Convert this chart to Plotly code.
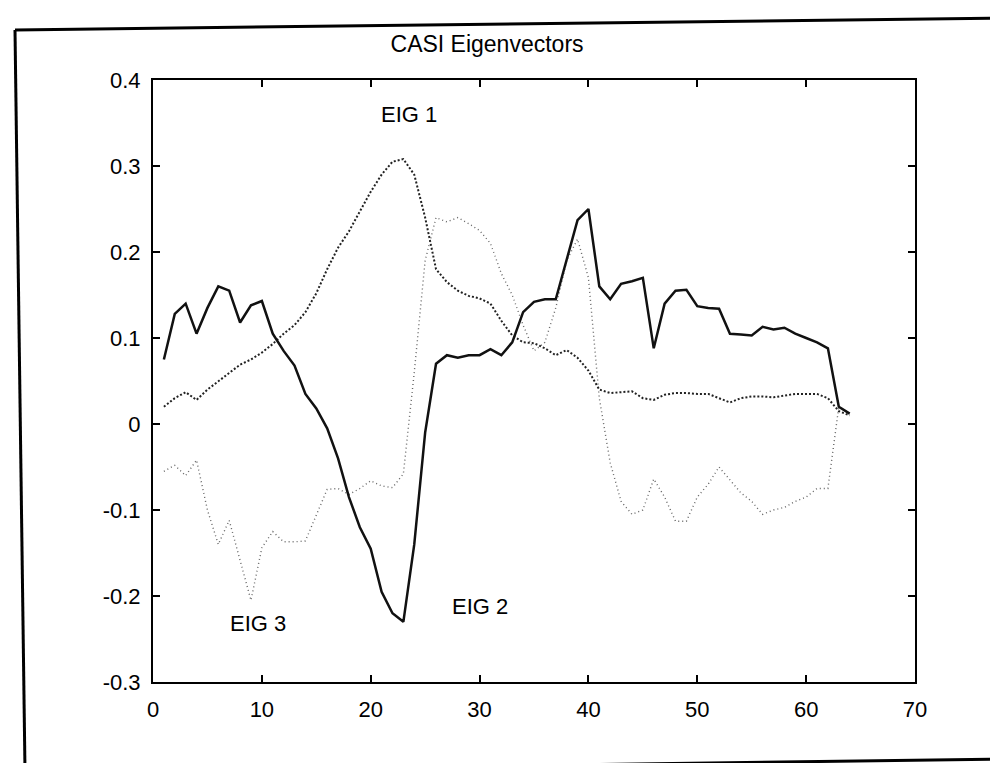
import plotly.graph_objects as go

bands = list(range(1, 65))

eig1 = [0.020, 0.030, 0.037, 0.028, 0.040, 0.050, 0.060, 0.069, 0.075, 0.083,
        0.093, 0.105, 0.115, 0.130, 0.152, 0.180, 0.205, 0.224, 0.247, 0.270,
        0.290, 0.305, 0.308, 0.290, 0.240, 0.180, 0.165, 0.155, 0.149, 0.146,
        0.140, 0.120, 0.103, 0.095, 0.094, 0.088, 0.080, 0.086, 0.077, 0.062,
        0.040, 0.036, 0.037, 0.038, 0.030, 0.028, 0.034, 0.036, 0.036, 0.035,
        0.035, 0.030, 0.025, 0.030, 0.032, 0.032, 0.031, 0.033, 0.035, 0.035,
        0.035, 0.030, 0.015, 0.010]

eig2 = [0.075, 0.128, 0.140, 0.105, 0.135, 0.160, 0.155, 0.118, 0.138, 0.143,
        0.105, 0.085, 0.068, 0.035, 0.018, -0.005, -0.040, -0.085, -0.120, -0.145,
        -0.195, -0.220, -0.230, -0.140, -0.010, 0.070, 0.080, 0.077, 0.080, 0.080,
        0.087, 0.080, 0.095, 0.130, 0.142, 0.145, 0.145, 0.190, 0.237, 0.250,
        0.160, 0.145, 0.163, 0.166, 0.170, 0.088, 0.140, 0.155, 0.156, 0.137,
        0.135, 0.134, 0.105, 0.104, 0.103, 0.113, 0.110, 0.112, 0.105, 0.100,
        0.095, 0.088, 0.020, 0.012]

eig3 = [-0.055, -0.048, -0.060, -0.042, -0.100, -0.140, -0.112, -0.160, -0.205, -0.144,
        -0.125, -0.137, -0.137, -0.136, -0.105, -0.076, -0.075, -0.082, -0.075, -0.066,
        -0.072, -0.074, -0.058, 0.060, 0.190, 0.240, 0.235, 0.240, 0.233, 0.225,
        0.210, 0.175, 0.150, 0.115, 0.085, 0.095, 0.135, 0.190, 0.215, 0.170,
        0.030, -0.045, -0.090, -0.105, -0.100, -0.064, -0.085, -0.113, -0.113, -0.085,
        -0.070, -0.050, -0.065, -0.080, -0.090, -0.105, -0.100, -0.097, -0.090, -0.085,
        -0.075, -0.075, 0.020, 0.012]

x_ticks = [0, 10, 20, 30, 40, 50, 60, 70]
y_ticks = [-0.3, -0.2, -0.1, 0, 0.1, 0.2, 0.3, 0.4]
y_tick_text = ["-0.3", "-0.2", "-0.1", "0", "0.1", "0.2", "0.3", "0.4"]

labels = ["EIG 1", "EIG 2", "EIG 3"]
label_x = [23.5, 30.0, 9.6]
label_y = [0.36, -0.212, -0.232]

FONT = "Liberation Sans, Arial, Helvetica, sans-serif"

fig = go.Figure()
fig.add_trace(go.Scatter(x=bands, y=eig3, mode="lines", name="EIG 3",
                         line=dict(color="#666666", width=1.4, dash="1px,3px")))
fig.add_trace(go.Scatter(x=bands, y=eig1, mode="lines", name="EIG 1",
                         line=dict(color="#222222", width=2, dash="2px,2px")))
fig.add_trace(go.Scatter(x=bands, y=eig2, mode="lines", name="EIG 2",
                         line=dict(color="#111111", width=2.5)))

for t, xx, yy in zip(labels, label_x, label_y):
    fig.add_annotation(x=xx, y=yy, text=t, showarrow=False,
                       font=dict(family=FONT, size=22, color="black"))

# outer scanned frame (paper coords; plot area is 145..907 x 72..674 px)
def px(v):
    return (v - 145) / 762.0

def py(v):
    return (674 - v) / 602.0

frame = dict(color="black", width=3)
fig.add_shape(type="line", xref="paper", yref="paper",
              x0=px(7), y0=py(22), x1=px(998), y1=py(10), line=frame)
fig.add_shape(type="line", xref="paper", yref="paper",
              x0=px(7), y0=py(22), x1=px(17), y1=py(763), line=frame)
fig.add_shape(type="line", xref="paper", yref="paper",
              x0=px(187), y0=py(762), x1=px(998), y1=py(751), line=frame)

axis_common = dict(showgrid=False, zeroline=False, showline=True, mirror="ticks",
                   linecolor="black", linewidth=2, ticks="inside", ticklen=7,
                   tickwidth=2, tickcolor="black",
                   tickfont=dict(family=FONT, size=22, color="black"))

fig.update_layout(
    width=998, height=763,
    paper_bgcolor="white", plot_bgcolor="white",
    margin=dict(l=145, r=91, t=72, b=89),
    showlegend=False,
    title=dict(text="CASI Eigenvectors", x=0.48, xanchor="center",
               y=1 - 36 / 763, yanchor="middle",
               font=dict(family=FONT, size=23, color="black")),
    xaxis=dict(range=[0, 70], tickvals=x_ticks, ticklabelstandoff=7, **axis_common),
    yaxis=dict(range=[-0.3, 0.4], tickvals=y_ticks, ticktext=y_tick_text,
               ticklabelstandoff=6, **axis_common),
)

fig.write_html("out.html")
